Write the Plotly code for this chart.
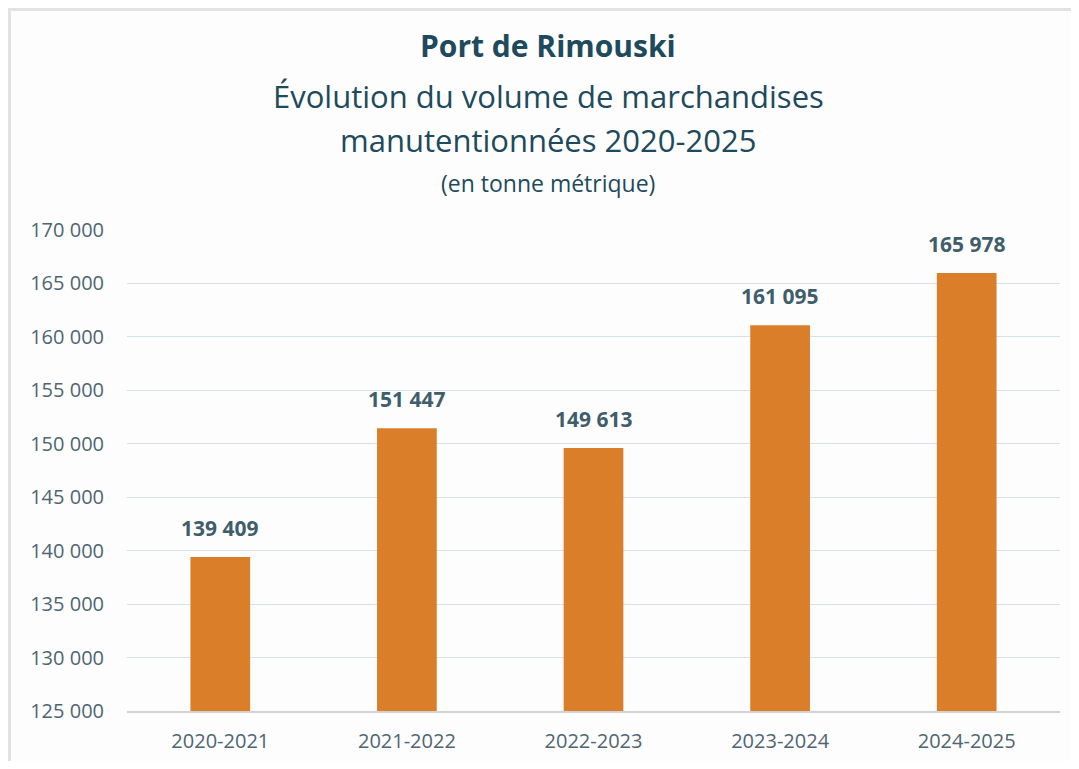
import plotly.graph_objects as go

# données
periodes = ["2020-2021", "2021-2022", "2022-2023", "2023-2024", "2024-2025"]
volumes = [139409, 151447, 149613, 161095, 165978]
tick_vals = [125000, 130000, 135000, 140000, 145000, 150000, 155000, 160000, 165000, 170000]
tick_text = ["125 000", "130 000", "135 000", "140 000", "145 000",
             "150 000", "155 000", "160 000", "165 000", "170 000"]
labels = [f"{v:,}".replace(",", " ") for v in volumes]

FONT = "Open Sans"
TITLE_COL = "#1d4a5c"

# la page a une marge de 8 px autour du graphique
W, H = 1063, 753
ML, MR, MT, MB = 119, 11, 222, 50
PW, PH = W - ML - MR, H - MT - MB


def px_x(x):
    # position écran -> coordonnée papier
    return (x - 8 - ML) / PW


def px_y(y):
    return (H - MB - (y - 8)) / PH


fig = go.Figure()
fig.add_trace(go.Bar(
    x=periodes, y=volumes,
    marker=dict(color="#DA7E29", line=dict(width=0)),
    width=0.32, hoverinfo="x+y",
))

# étiquettes de valeurs au-dessus des barres
for p, v, lab in zip(periodes, volumes, labels):
    fig.add_annotation(
        x=p, y=v, text=f"<b>{lab}</b>", showarrow=False,
        xanchor="center", yanchor="middle", yshift=29,
        font=dict(family=FONT, size=21, color="#3f5d6b"),
    )

fig.update_layout(
    width=W, height=H,
    paper_bgcolor="#fdfdfd", plot_bgcolor="#fdfdfd",
    margin=dict(l=ML, r=MR, t=MT, b=MB),
    showlegend=False,
    font=dict(family=FONT),
    xaxis=dict(
        showgrid=False, showline=True, linecolor="#d2d2d2", linewidth=2,
        ticks="", ticklabelstandoff=11, automargin=False,
        tickfont=dict(family=FONT, size=20, color="#4e6572"),
    ),
    yaxis=dict(
        range=[125000, 170000], tickvals=tick_vals, ticktext=tick_text,
        showgrid=True, gridcolor="#d3e2ec", gridwidth=1, zeroline=False,
        ticks="", ticklabelstandoff=22, automargin=False,
        tickfont=dict(family=FONT, size=20, color="#4e6572"),
    ),
)

# titre en plusieurs lignes
titles = [
    ("<b>Port de Rimouski</b>", 30, 45),
    ("Évolution du volume de marchandises", 31, 96),
    ("manutentionnées 2020-2025", 31, 140),
    ("(en tonne métrique)", 23, 183),
]
for txt, size, ypx in titles:
    fig.add_annotation(
        text=txt, xref="paper", yref="paper",
        x=px_x(548), y=px_y(ypx),
        xanchor="center", yanchor="middle", showarrow=False,
        font=dict(family=FONT, size=size, color=TITLE_COL),
    )

# cadre gris léger en haut et à gauche
fig.add_shape(type="line", xref="paper", yref="paper",
              x0=px_x(8), x1=px_x(1079), y0=px_y(9.5), y1=px_y(9.5),
              line=dict(color="#e2e2e2", width=3))
fig.add_shape(type="line", xref="paper", yref="paper",
              x0=px_x(9.5), x1=px_x(9.5), y0=px_y(8), y1=px_y(769),
              line=dict(color="#e2e2e2", width=3))

fig.write_html("out.html")
